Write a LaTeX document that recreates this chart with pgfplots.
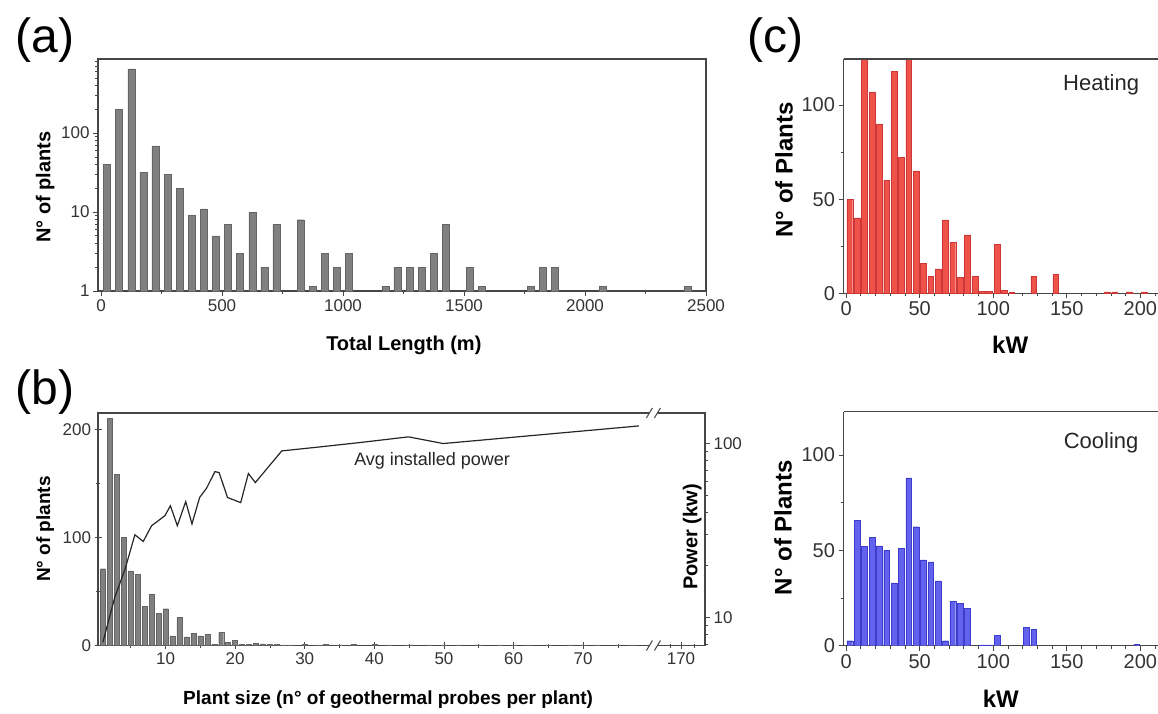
\documentclass[border=0pt]{standalone}
\usepackage{pgfplots}
\pgfplotsset{compat=1.18}
\usepackage{fontspec}
\setmainfont{Liberation Sans}

\definecolor{axcol}{RGB}{70,70,70}
\definecolor{barg}{RGB}{128,128,128}
\definecolor{bargd}{RGB}{100,100,100}
\definecolor{heat}{RGB}{238,82,72}
\definecolor{heatd}{RGB}{205,55,55}
\definecolor{cool}{RGB}{98,98,238}
\definecolor{coold}{RGB}{60,60,205}

\newcommand\fs[1]{\fontsize{#1}{#1}\selectfont}

\pgfplotsset{
  every axis/.append style={
    scale only axis, anchor=south west,
    axis line style={axcol, line width=1.2pt},
    every tick/.append style={axcol, line width=0.8pt},
    major tick length=5pt, minor tick length=3pt,
    tick align=outside,
    /pgf/number format/assume math mode=true,
    ticklabel style={text=black!80},
    xtick pos=left, ytick pos=left,
  },
}

\begin{document}
\begin{tikzpicture}
\useasboundingbox (0pt,0pt) rectangle (1158pt,713pt);

% ---------- (a) total length, log counts
\begin{axis}[at={(98pt,422pt)}, width=608pt, height=232pt,
  xmin=-12.5, xmax=2500, ymode=log, ymin=1, ymax=870,
  xtick={0,500,1000,1500,2000,2500}, xticklabels={0,500,1000,1500,2000,2500},
  minor xtick={250,750,1250,1750,2250},
  ytick={1,10,100}, yticklabels={1,10,100},
  minor ytick={2,3,4,5,6,7,8,9,20,30,40,50,60,70,80,90,200,300,400,500,600,700,800},
  ticklabel style={font=\fs{17}},
  xlabel={Total Length (m)}, ylabel={N° of plants},
  label style={font=\fs{20}\bfseries},
  xlabel style={at={(axis description cs:0.503,-0.235)}, anchor=center},
  ylabel style={at={(axis description cs:-0.087,0.448)}, anchor=center},
]
\addplot[ybar, bar width=7pt, fill=barg, draw=bargd] coordinates {
(25,40) (75,200) (125,650) (175,32) (225,69) (275,30) (325,20) (375,9)
(425,11) (475,5) (525,7) (575,3) (625,10) (675,2) (725,7) (825,8)
(875,1.15) (925,3) (975,2) (1025,3) (1175,1.15) (1225,2) (1275,2) (1325,2)
(1375,3) (1425,7) (1525,2) (1575,1.15) (1775,1.15) (1825,2) (1875,2)
(2075,1.15) (2425,1.15)};
\end{axis}

% ---------- (b) plant size, counts
\begin{axis}[at={(98pt,67.5pt)}, width=607pt, height=232.5pt,
  xmin=0.3, xmax=87.5, ymin=0, ymax=215,
  tick align=center, major tick length=7pt, minor tick length=4pt,
  xtick={10,20,30,40,50,60,70,84.05}, xticklabels={10,20,30,40,50,60,70,170},
  minor xtick={5,15,25,35,45,55,65,75,82.5,86},
  ytick={0,100,200}, yticklabels={0,100,200}, minor ytick={50,150},
  ticklabel style={font=\fs{17}},
  xlabel={Plant size (n° of geothermal probes per plant)}, ylabel={N° of plants},
  label style={font=\fs{19}\bfseries},
  xlabel style={at={(axis description cs:0.478,-0.234)}, anchor=center},
  ylabel style={at={(axis description cs:-0.087,0.501)}, anchor=center},
]
\addplot[ybar, bar width=5pt, fill=barg, draw=bargd] coordinates {
(1,71) (2,210) (3,158) (4,100) (5,69) (6,66) (7,36) (8,47) (9,30) (10,34)
(11,9) (12,26) (13,8) (14,11) (15,9) (16,10) (17,1) (18,12) (19,3) (20,5)
(21,1) (22,1) (23,2) (24,1.5) (25,1) (26,1) (27,0.5) (28,0.5) (30,1) (32,0.5)
(33,1) (35,0.5) (37,1) (40,1) (42,0.5) (45,0.5) (48,0.5) (50,0.5) (52,0.5)
(55,0.5) (58,0.5) (60,0.5) (62,0.5) (65,0.5) (68,0.5) (70,0.5) (72,0.5)
(75,0.5) (77,0.5)};
\end{axis}

% ---------- (b) average installed power, log right axis
\begin{axis}[at={(98pt,67.5pt)}, width=607pt, height=232.5pt,
  xmin=0.3, xmax=87.5, ymode=log, ymin=6.9, ymax=149,
  axis x line=none, axis y line*=right, ytick pos=right,
  ytick={10,100}, yticklabels={10,100},
  minor ytick={7,8,9,20,30,40,50,60,70,80,90},
  ticklabel style={font=\fs{17}},
  ylabel={Power (kw)}, ylabel style={font=\fs{20}\bfseries,
    at={(axis description cs:0.979,0.467)}, anchor=center},
  clip=false,
]
\addplot[black!85, line width=1.2pt] coordinates {
(1,7.2) (2.7,13) (4.2,19) (5.6,29.8) (6.8,27.3) (8,33.6) (9.9,38.3)
(10.7,43.7) (11.7,33.6) (12.9,46.2) (13.8,34.4) (14.9,48.8) (15.9,55.2)
(17.1,68.7) (17.7,67.8) (18.9,48.8) (20.8,45.6) (21.9,67) (22.9,59.4)
(26.7,90.3) (32.2,95.2) (37.9,100.8) (44.9,108.7) (49.9,99.5) (78,125.6)};
\node[font=\fs{18}, text=black!85] at (axis cs:48.3,79.2) {Avg installed power};
% axis break marks
\draw[white, line width=4pt] (rel axis cs:0.915,0) ++(-4pt,0pt) -- ++(8pt,0pt);
\draw[axcol, line width=1pt] (rel axis cs:0.915,0) ++(-7pt,-5pt) -- ++(6pt,10pt);
\draw[axcol, line width=1pt] (rel axis cs:0.915,0) ++(1pt,-5pt) -- ++(6pt,10pt);
\draw[white, line width=4pt] (rel axis cs:0.915,1) ++(-4pt,0pt) -- ++(8pt,0pt);
\draw[axcol, line width=1pt] (rel axis cs:0.915,1) ++(-7pt,-5pt) -- ++(6pt,10pt);
\draw[axcol, line width=1pt] (rel axis cs:0.915,1) ++(1pt,-5pt) -- ++(6pt,10pt);
\end{axis}

% ---------- (c) heating
\begin{axis}[at={(843.5pt,419.7pt)}, width=314.5pt, height=234.3pt,
  xmin=-1.8, xmax=212, ymin=0, ymax=124.4,
  axis lines*=left, clip mode=individual,
  xtick={0,50,100,150,200}, xticklabels={0,50,100,150,200},
  minor xtick={10,20,30,40,60,70,80,90,110,120,130,140,160,170,180,190,210},
  ytick={0,50,100}, yticklabels={0,50,100}, minor ytick={25,75},
  ticklabel style={font=\fs{20}},
  xlabel={kW}, ylabel={N° of Plants},
  label style={font=\fs{24}\bfseries},
  xlabel style={at={(axis description cs:0.53,-0.221)}, anchor=center},
  ylabel style={at={(axis description cs:-0.189,0.526)}, anchor=center},
]
\addplot[ybar, bar width=5.8pt, fill=heat, draw=heatd] coordinates {
(2.5,50) (7.5,40) (12.5,130) (17.5,107) (22.5,90) (27.5,60) (32.5,118)
(37.5,72) (42.5,130) (47.5,65) (52.5,16) (57.5,9) (62.5,13) (67.5,39)
(72.5,27) (77.5,8.5) (82.5,31) (87.5,9) (92.5,1) (97.5,1) (102.5,26)
(107.5,1.5) (112.5,0.5) (127.5,9) (142.5,10) (177.5,0.7) (182.5,0.7)
(192.5,0.7) (202.5,0.7)};
\draw[axcol, line width=1.2pt] (rel axis cs:0,1) -- (rel axis cs:1.02,1);
\node[font=\fs{22}, text=black!85] at (axis description cs:0.819,0.889) {Heating};
\end{axis}

% ---------- (c) cooling
\begin{axis}[at={(843.5pt,67.3pt)}, width=314.5pt, height=234pt,
  xmin=-1.8, xmax=212, ymin=0, ymax=122.7,
  axis lines*=left, clip mode=individual,
  xtick={0,50,100,150,200}, xticklabels={0,50,100,150,200},
  minor xtick={10,20,30,40,60,70,80,90,110,120,130,140,160,170,180,190,210},
  ytick={0,50,100}, yticklabels={0,50,100}, minor ytick={25,75},
  ticklabel style={font=\fs{20}},
  xlabel={kW}, ylabel={N° of Plants},
  label style={font=\fs{24}\bfseries},
  xlabel style={at={(axis description cs:0.50,-0.228)}, anchor=center},
  ylabel style={at={(axis description cs:-0.192,0.505)}, anchor=center},
]
\addplot[ybar, bar width=5.8pt, fill=cool, draw=coold] coordinates {
(2.5,2.6) (7.5,65.6) (12.5,52) (17.5,57) (22.5,52.4) (27.5,50) (32.5,33)
(37.5,51) (42.5,88) (47.5,62.4) (52.5,45) (57.5,44) (62.5,34) (67.5,2.6)
(72.5,23.4) (77.5,22.2) (82.5,19.6) (92.5,0.5) (97.5,0.5) (102.5,5.6)
(122.5,9.6) (127.5,8.6) (197.5,0.8)};
\draw[axcol, line width=1.2pt] (rel axis cs:0,1) -- (rel axis cs:1.02,1);
\node[font=\fs{22}, text=black!85] at (axis description cs:0.819,0.866) {Cooling};
\end{axis}

% panel letters
\node[font=\fs{48}] at (45pt,673pt) {(a)};
\node[font=\fs{48}] at (45pt,321pt) {(b)};
\node[font=\fs{48}] at (775pt,673pt) {(c)};
\end{tikzpicture}
\end{document}
